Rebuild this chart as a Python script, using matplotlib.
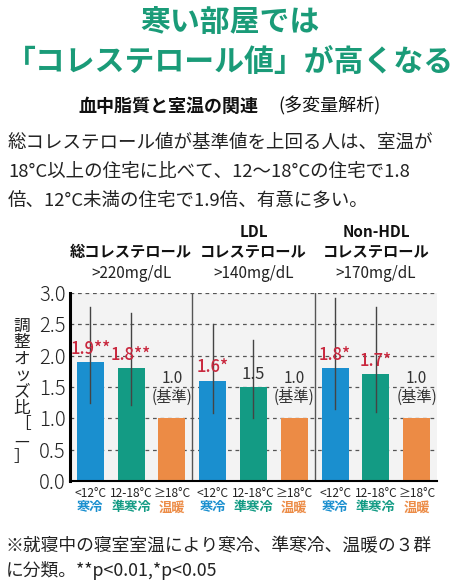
import matplotlib
matplotlib.use("Agg")
import matplotlib.pyplot as plt

plt.rcParams['font.family'] = ['Noto Sans CJK JP', 'DejaVu Sans']

groups = ["総コレステロール", "LDL\nコレステロール", "Non-HDL\nコレステロール"]
thresholds = [">220mg/dL", ">140mg/dL", ">170mg/dL"]
temps = ["<12°C", "12-18°C", "≥18°C"]
cats = ["寒冷", "準寒冷", "温暖"]
values = [[1.9, 1.8, 1.0], [1.6, 1.5, 1.0], [1.8, 1.7, 1.0]]
err_lo = [[1.25, 1.22, None], [1.08, 1.0, None], [1.15, 1.1, None]]
err_hi = [[2.77, 2.68, None], [2.5, 2.25, None], [2.92, 2.77, None]]
labels = [["1.9**", "1.8**", "1.0\n(基準)"], ["1.6*", "1.5", "1.0\n(基準)"], ["1.8*", "1.7*", "1.0\n(基準)"]]
sig = [[True, True, False], [True, False, False], [True, True, False]]

colors = ["#1a8fcf", "#139b84", "#ec8b45"]
red = "#c9283e"
green = "#1a9b78"

W, H = 460, 581
fig = plt.figure(figsize=(W/100, H/100), dpi=100)
fig.patch.set_facecolor("white")

def fy(p): return 1 - p/H
def fx(p): return p/W

fig.text(0.5, fy(22), "寒い部屋では", ha="center", va="center", fontsize=21.5, fontweight="bold", color=green)
fig.text(0.5, fy(63), "「コレステロール値」が高くなる", ha="center", va="center", fontsize=21.5, fontweight="bold", color=green)
fig.text(fx(78), fy(106), "血中脂質と室温の関連", ha="left", va="center", fontsize=13, fontweight="bold", color="#111")
fig.text(fx(278), fy(106), "(多変量解析)", ha="left", va="center", fontsize=13, color="#111")
para = ["総コレステロール値が基準値を上回る人は、室温が",
        "18°C以上の住宅に比べて、12～18°Cの住宅で1.8",
        "倍、12°C未満の住宅で1.9倍、有意に多い。"]
for i, t in enumerate(para):
    fig.text(fx(8), fy(143 + 28.5*i), t, ha="left", va="center", fontsize=13.3, color="#222")

ax = fig.add_axes([fx(70), fy(481), fx(437-70), (481-293)/H])
ax.set_facecolor("#f3f3f3")
ax.set_xlim(-0.5, 8.5)
ax.set_ylim(0, 3.0)
for y in [0.5, 1.0, 1.5, 2.0, 2.5, 3.0]:
    ax.axhline(y, color="#555", ls=(0, (3, 3)), lw=0.9, zorder=1)
for x in [2.5, 5.5]:
    ax.axvline(x, color="#555", lw=1.0, zorder=1)

for g in range(3):
    for i in range(3):
        x = g*3 + i
        v = values[g][i]
        ax.bar(x, v, width=0.66, color=colors[i], zorder=2)
        if err_lo[g][i] is not None:
            ax.plot([x, x], [err_lo[g][i], err_hi[g][i]], color="#444", lw=1.0, zorder=3)
        if i < 2:
            ax.text(x, v + 0.07, labels[g][i], ha="center", va="bottom", fontsize=12,
                    color=red if sig[g][i] else "#333", fontweight="medium" if sig[g][i] else "normal", zorder=4)
        else:
            ax.text(x, 1.2, labels[g][i], ha="center", va="bottom", fontsize=11, color="#333",
                    linespacing=1.1, zorder=4)
        ax.text(x, -0.2, temps[i], ha="center", va="center", fontsize=8.6, color="#222")
        ax.text(x, -0.42, cats[i], ha="center", va="center", fontsize=9.5, fontweight="bold", color=colors[i])

ax.set_xticks([])
ax.set_yticks([0, 0.5, 1.0, 1.5, 2.0, 2.5, 3.0])
ax.set_yticklabels(["0.0", "0.5", "1.0", "1.5", "2.0", "2.5", "3.0"], fontsize=14.5, color="#222", fontweight="light")
ax.tick_params(axis="y", length=0, pad=3)
for s in ["top", "right"]:
    ax.spines[s].set_visible(False)
ax.spines["left"].set_linewidth(2.2)
ax.spines["bottom"].set_linewidth(1.5)

gx = [fx(70 + 40.8*(g*3+1) + 0.5*40.8) for g in range(3)]
for g in range(3):
    lines = groups[g].split("\n")
    if len(lines) == 1:
        fig.text(gx[g], fy(252), lines[0], ha="center", va="center", fontsize=11, fontweight="bold", color="#111")
    else:
        fig.text(gx[g], fy(232), lines[0], ha="center", va="center", fontsize=11, fontweight="bold", color="#111")
        fig.text(gx[g], fy(252), lines[1], ha="center", va="center", fontsize=11, fontweight="bold", color="#111")
    fig.text(gx[g], fy(274), thresholds[g], ha="center", va="center", fontsize=11, color="#222")

fig.text(fx(22), fy(392), "調\n整\nオ\nッ\nズ\n比\n［\n—\n］", ha="center", va="center",
         fontsize=12, color="#222", linespacing=0.95)

fig.text(fx(6), fy(546), "※就寝中の寝室室温により寒冷、準寒冷、温暖の３群", ha="left", va="center", fontsize=12.8, color="#222")
fig.text(fx(6), fy(571), "に分類。**p<0.01,*p<0.05", ha="left", va="center", fontsize=12.8, color="#222")

fig.savefig("out.png", dpi=100)
